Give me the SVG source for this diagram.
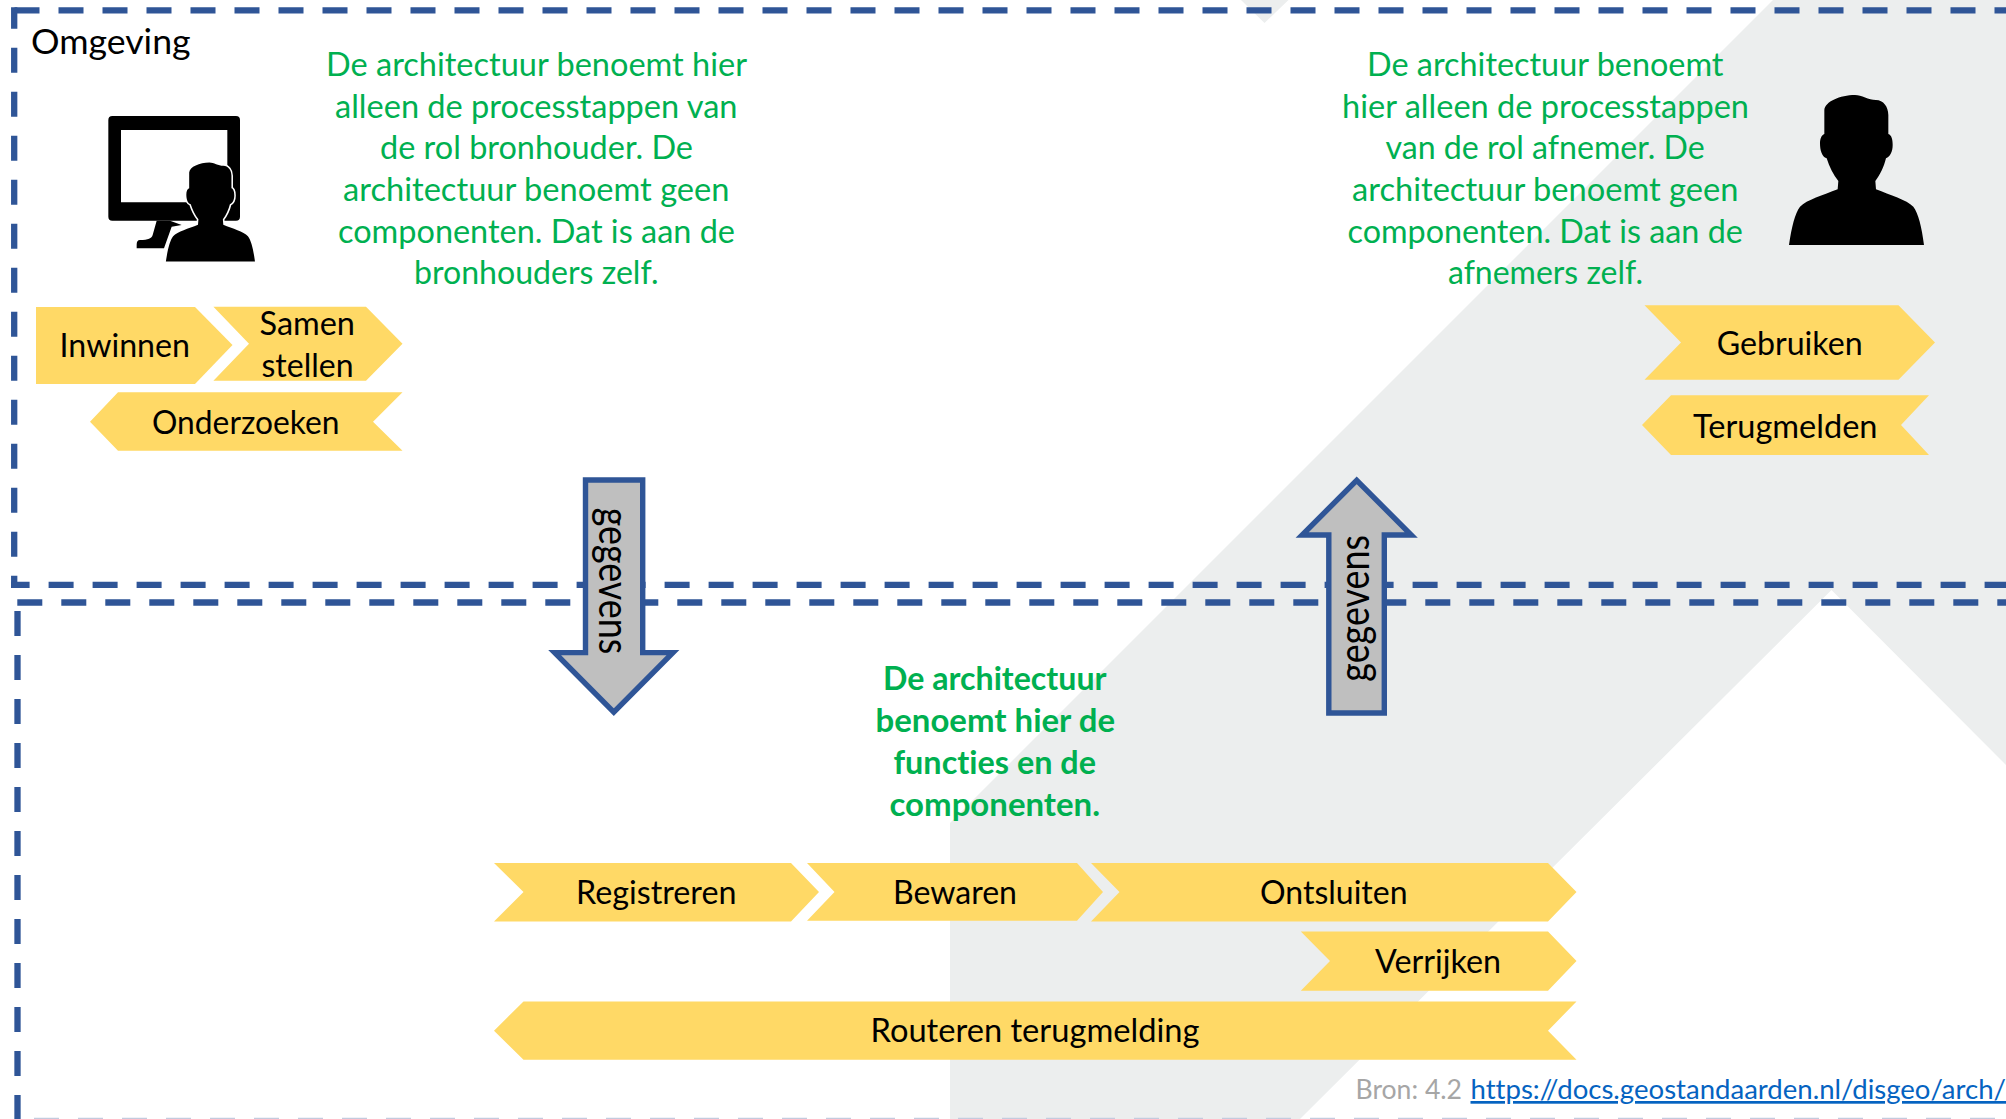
<svg xmlns="http://www.w3.org/2000/svg" width="2006" height="1119" viewBox="0 0 2006 1119">
<style>
text{font-family:"Lato","Carlito","Liberation Sans",sans-serif;font-size:33px;fill:#000;white-space:pre;font-variant-ligatures:none}
.g text{fill:#00b050;font-size:33px}
.gb text{fill:#00b050;font-size:32px;font-weight:700}
.c{fill:#ffd966}
.d{fill:none;stroke:#2f5597;stroke-width:6.3;stroke-dasharray:25 19}
.a{fill:#bfbfbf;stroke:#2f5597;stroke-width:5.4;stroke-linejoin:miter;stroke-miterlimit:10}
.s{font-size:27px}
</style>
<g id="background" fill="#eceeee">
<polygon points="1773,0 2006,0 2006,765 1831.5,590 1300,1119 950,1119 950,823"/>
<polygon points="1241,0 1288.5,0 1264.5,23"/>
</g>
<g id="boundaries">
<line class="d" x1="14.5" y1="10.3" x2="2006" y2="10.3"/>
<line class="d" x1="14.2" y1="7.3" x2="14.2" y2="588" stroke-dashoffset="3.6"/>
<line class="d" x1="11" y1="584.8" x2="2006" y2="584.8" stroke-dashoffset="6.4"/>
<line class="d" x1="17.3" y1="602.5" x2="2006" y2="602.5"/>
<line class="d" x1="17.5" y1="611" x2="17.5" y2="1119"/>
<line class="d" x1="34" y1="1118.4" x2="2006" y2="1118.4" style="stroke:#c3cbde;stroke-width:1.3"/>
</g>
<g id="connectors">
<g id="arrow-down">
<polygon class="a" points="585.5,480 642.7,480 642.7,652.6 672.9,652.6 613.8,712.2 554.7,652.6 585.5,652.6"/>
<text transform="translate(599.3 507.7) rotate(90)" style="font-size:42px" textLength="146.6" lengthAdjust="spacingAndGlyphs">gegevens</text>
</g>
<g id="arrow-up">
<polygon class="a" points="1328.8,713 1384.3,713 1384.3,535 1411.3,535 1356.7,480.4 1302.1,535 1328.8,535"/>
<text transform="translate(1369 681.7) rotate(-90)" style="font-size:42px" textLength="146.7" lengthAdjust="spacingAndGlyphs">gegevens</text>
</g>
</g>
<g id="omgeving"><text x="31" y="54" style="font-size:34px" textLength="159.6" lengthAdjust="spacingAndGlyphs">Omgeving</text></g>
<g id="icon-bronhouder" transform="translate(90 100) scale(.33333)">
<path fill-rule="evenodd" d="M67 48H438Q450 48 450 60V350Q450 362 438 362H67Q55 362 55 350V60Q55 48 67 48ZM93 90V307H412V90Z"/>
<path d="M200 362L188 405C185 415 175 420 150 420C143 420 140 425 140 435V445H222L245 380L275 375L240 362Z"/>
<path transform="translate(190 158) scale(.66)" stroke="#fff" stroke-width="14" paint-order="stroke" d="M57 495C65 440 75 400 90 380C110 360 160 345 203 328L205 303C190 285 178 260 170 235C155 230 150 210 150 190C150 175 155 165 163 162V90C165 65 210 45 255 45C275 45 295 60 318 60C340 60 355 80 355 105V162C365 165 368 180 368 195C368 215 360 230 348 235C342 260 330 285 316 303L318 328C360 345 410 360 430 380C445 400 455 440 462 495Z"/>
</g>
<g id="icon-afnemer" transform="translate(1770 80) scale(.33333)">
<path d="M57 495C65 440 75 400 90 380C110 360 160 345 203 328L205 303C190 285 178 260 170 235C155 230 150 210 150 190C150 175 155 165 163 162V90C165 65 210 45 255 45C275 45 295 60 318 60C340 60 355 80 355 105V162C365 165 368 180 368 195C368 215 360 230 348 235C342 260 330 285 316 303L318 328C360 345 410 360 430 380C445 400 455 440 462 495Z"/>
</g>
<g id="tekst-bronhouder" class="g">
<text x="326" y="76" textLength="421" lengthAdjust="spacingAndGlyphs">De architectuur benoemt hier</text>
<text x="335" y="117.7" textLength="402.5" lengthAdjust="spacingAndGlyphs">alleen de processtappen van</text>
<text x="380" y="159.3" textLength="313" lengthAdjust="spacingAndGlyphs">de rol bronhouder. De</text>
<text x="343" y="201" textLength="386.5" lengthAdjust="spacingAndGlyphs">architectuur benoemt geen</text>
<text x="338" y="242.7" textLength="397" lengthAdjust="spacingAndGlyphs">componenten. Dat is aan de</text>
<text x="414" y="284.3" textLength="244.5" lengthAdjust="spacingAndGlyphs">bronhouders zelf.</text>
</g>
<g id="tekst-afnemer" class="g">
<text x="1367" y="76" textLength="356.5" lengthAdjust="spacingAndGlyphs">De architectuur benoemt</text>
<text x="1342" y="117.7" textLength="407" lengthAdjust="spacingAndGlyphs">hier alleen de processtappen</text>
<text x="1385.5" y="159.3" textLength="319.2" lengthAdjust="spacingAndGlyphs">van de rol afnemer. De</text>
<text x="1352" y="201" textLength="386.4" lengthAdjust="spacingAndGlyphs">architectuur benoemt geen</text>
<text x="1347.5" y="242.7" textLength="395.3" lengthAdjust="spacingAndGlyphs">componenten. Dat is aan de</text>
<text x="1448" y="284.3" textLength="195" lengthAdjust="spacingAndGlyphs">afnemers zelf.</text>
</g>
<g id="tekst-functies" class="gb">
<text x="883" y="690" textLength="223.5" lengthAdjust="spacingAndGlyphs">De architectuur</text>
<text x="875.5" y="731.7" textLength="239.5" lengthAdjust="spacingAndGlyphs">benoemt hier de</text>
<text x="893.5" y="774" textLength="202.5" lengthAdjust="spacingAndGlyphs">functies en de</text>
<text x="889.5" y="815.5" textLength="210.5" lengthAdjust="spacingAndGlyphs">componenten.</text>
</g>
<g id="inwinnen"><polygon class="c" points="36,307 195,307 232.5,345 195,384 36,384"/><text x="59.5" y="357" textLength="130.5" lengthAdjust="spacingAndGlyphs">Inwinnen</text></g>
<g id="samenstellen"><polygon class="c" points="213.4,306.7 366,306.7 402.5,343.7 366,380.7 213.4,380.7 249,343.7"/><text x="259.5" y="335.3" textLength="95.5" lengthAdjust="spacingAndGlyphs">Samen</text><text x="261.5" y="377" textLength="92" lengthAdjust="spacingAndGlyphs">stellen</text></g>
<g id="onderzoeken"><polygon class="c" points="90,421.7 118,392.3 402.5,392.3 373,421.7 402.5,450.7 118,450.7"/><text x="152" y="433.5" textLength="187.5" lengthAdjust="spacingAndGlyphs">Onderzoeken</text></g>
<g id="gebruiken"><polygon class="c" points="1644.5,305.3 1898.5,305.3 1935,342.5 1898.5,379.7 1644.5,379.7 1681,342.5"/><text x="1716.7" y="355" textLength="146" lengthAdjust="spacingAndGlyphs">Gebruiken</text></g>
<g id="terugmelden"><polygon class="c" points="1642,425 1671,395.3 1929,395.3 1901,425 1929,455 1671,455"/><text x="1693" y="437.5" textLength="184.5" lengthAdjust="spacingAndGlyphs">Terugmelden</text></g>
<g id="registreren"><polygon class="c" points="494,863 791,863 819,892 791,921.6 494,921.6 523.5,892"/><text x="576" y="904.4" textLength="160.5" lengthAdjust="spacingAndGlyphs">Registreren</text></g>
<g id="bewaren"><polygon class="c" points="807,863 1077,863 1103,892 1077,920.7 807,920.7 834.5,892"/><text x="893" y="904.4" textLength="124" lengthAdjust="spacingAndGlyphs">Bewaren</text></g>
<g id="ontsluiten"><polygon class="c" points="1091,863 1548,863 1576.5,892 1548,921.6 1091,921.6 1119.5,892"/><text x="1260" y="904.4" textLength="147.5" lengthAdjust="spacingAndGlyphs">Ontsluiten</text></g>
<g id="verrijken"><polygon class="c" points="1300.8,931.5 1548,931.5 1576.5,961 1548,990.7 1300.8,990.7 1330,961"/><text x="1375" y="973" textLength="126" lengthAdjust="spacingAndGlyphs">Verrijken</text></g>
<g id="routeren"><polygon class="c" points="494,1030.7 523.5,1001.5 1576.5,1001.5 1548,1030.7 1576.5,1059.8 523.5,1059.8"/><text x="870.5" y="1042" textLength="329" lengthAdjust="spacingAndGlyphs">Routeren terugmelding</text></g>
<g id="bron">
<text class="s" x="1355.5" y="1099" textLength="106.5" lengthAdjust="spacingAndGlyphs" style="fill:#a6a6a6">Bron: 4.2</text>
<text class="s" x="1470.5" y="1099" textLength="535.5" lengthAdjust="spacingAndGlyphs" style="fill:#0563c1;text-decoration:underline">https://docs.geostandaarden.nl/disgeo/arch/</text>
</g>
</svg>
